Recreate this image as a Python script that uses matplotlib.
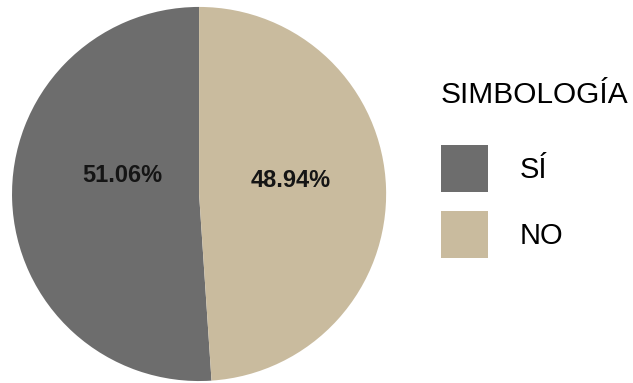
import matplotlib.pyplot as plt
from matplotlib.patches import Patch

# values
labels = ["SÍ", "NO"]
shares = [51.06, 48.94]
colors = ["#6d6d6d", "#c9bb9e"]
legend_title = "SIMBOLOGÍA"

plt.rcParams["font.family"] = ["Liberation Sans", "DejaVu Sans"]

fig = plt.figure(figsize=(6.33, 3.83), dpi=100)
ax = fig.add_axes([0.019, 0.005, 0.591, 0.977])

wedges, texts, autotexts = ax.pie(
    shares,
    colors=colors,
    startangle=90,
    counterclock=True,
    autopct="%.2f%%",
    pctdistance=0.42,
    wedgeprops=dict(linewidth=0),
    textprops=dict(fontsize=17, fontweight="bold", color="#151515"),
)
# the labels sit a bit above the slice middles in the reference
autotexts[0].set_position((-0.41, 0.10))
autotexts[1].set_position((0.49, 0.07))

ax.set_xlim(-1, 1)
ax.set_ylim(-1, 1)
ax.set_aspect("equal")

handles = [Patch(facecolor=c, edgecolor="none") for c in colors]
leg = fig.legend(
    handles,
    labels,
    title=legend_title,
    loc="upper left",
    bbox_to_anchor=(0.655, 0.857),
    frameon=False,
    fontsize=21,
    title_fontsize=21.5,
    handlelength=1.6,
    handleheight=2.1,
    handletextpad=1.1,
    labelspacing=0.66,
    alignment="left",
)
leg._legend_box.sep = 26

fig.savefig("out.png", dpi=100)
